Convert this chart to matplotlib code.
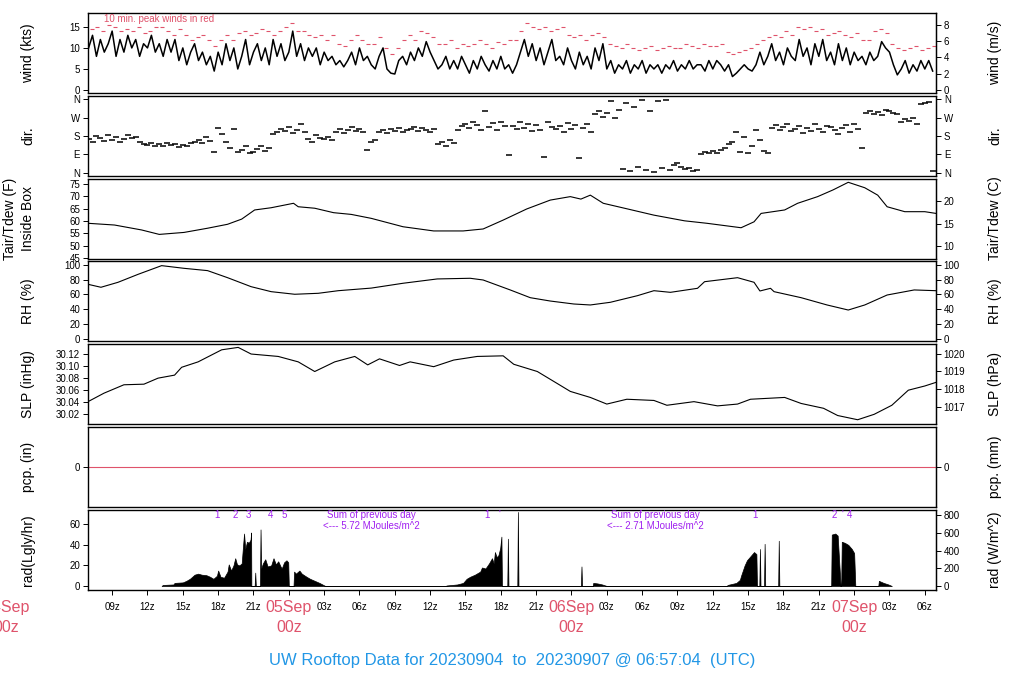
import numpy as np
import matplotlib
matplotlib.use('Agg')
import matplotlib.pyplot as plt

plt.rcParams['font.family'] = ['Liberation Sans', 'DejaVu Sans']

RED = '#DF536B'
BLUE = '#2297E6'
PURPLE = '#A020F0'

# time axis: hours since 2023-09-04 00z
t_start = 6.95
t_end = 78.95

# wind speed (kts), 3 samples per hour from 07z on 04Sep
wind_kts = [
    10, 13, 8,   12, 9, 11,   14, 8, 12,   9, 13, 10,   12, 8, 11,   10, 13, 9,
    11, 8, 12,   9, 12, 7,    10, 6, 9,    11, 7, 9,    6, 8, 4.5,   9, 6, 11,
    7, 10, 5,    8, 12, 6,    9, 11, 7,    10, 6, 12,   8, 11, 7,    9, 14, 8,
    11, 7, 10,   8, 10, 6,    9, 7, 8,     6, 7, 5.5,   7, 9, 6,     10, 7, 8,
    6, 5, 8,     10, 5, 4,    3.8, 7, 8,   6, 9, 7,     10, 8, 11.5, 9, 7, 5,
    6, 8, 5,     7, 5, 8,     6, 4, 7,     5, 8, 6,     4.5, 7, 5,   8, 5, 6,
    4, 6, 9,     12, 8, 11,   7, 10, 6,    9, 12, 7,    8, 6, 10,    7, 5, 9,
    6, 8, 5,     10, 7, 11,   5, 7, 4,     6, 5, 7,     4, 6, 5,     7, 4, 6,
    5, 6, 4,     6, 5, 7,     4.5, 6, 5,   7, 5, 6,     6, 4.5, 7,   5, 7, 6,
    4.5, 6, 3.2, 4, 5, 6,     5, 4.5, 6,   9, 6, 8,     11, 7, 9,    6, 10, 8,
    7, 12, 8,    10, 6, 11,   8, 12, 7,    9, 6, 11,    7, 10, 6,    9, 7, 8,
    6, 9, 7,     8, 11.5, 10, 9, 6, 3.6,   5, 7, 4,     6, 4.5, 7,   5, 7, 4.5,
]

# 10 min peak winds (kts), 2 samples per hour
gust_kts = [
    14.5, 15, 14, 15.5, 15, 14, 14.5, 14, 15, 13.5, 14, 15,
    15, 14, 13, 14.5, 13, 12, 12.5, 13, 12, 10.5, 12, 13,
    12, 13.5, 14, 13, 13.5, 14.5, 14, 13, 14, 15, 16, 14,
    14, 13, 12.5, 13, 12, 13, 11, 10.5, 12, 13, 12, 11,
    11, 12.5, 10, 8.5, 10, 12, 13, 12, 14, 13.5, 12.5, 11,
    11, 12, 10, 11, 10.5, 11, 12, 11, 10, 11.5, 11, 12,
    12, 14, 16, 15, 14.5, 15, 14, 14.5, 15, 13, 12.5, 13,
    12, 13, 13.5, 12.5, 11, 10.5, 10, 11, 10, 9.5, 10, 10.5,
    9.5, 10, 10.5, 10, 10, 11, 10.5, 10, 11, 10.5, 10.5, 11,
    9, 8.5, 9, 9.5, 10, 11, 12, 12.5, 13, 12.5, 14, 13,
    15, 14.5, 15, 14, 14.5, 13, 13.5, 14, 13, 12.5, 13.5, 12,
    12, 14, 14.5, 13.5, 11, 10, 9.5, 10, 10.5, 9.5, 10, 10.5,
]

# wind direction (deg), 3 samples per hour
wdir_deg = [
    165, 150, 180, 170, 155, 185, 160, 175, 150, 165, 185, 170,
    175, 150, 140, 135, 145, 130, 140, 130, 145, 135, 140, 128,
    138, 132, 145, 150, 160, 145, 175, 155, 100, 220, 190, 150,
    120, 215, 100, 110, 130, 95, 100, 115, 130, 105, 120, 190,
    200, 215, 205, 225, 195, 210, 240, 200, 165, 150, 185, 170,
    165, 175, 160, 200, 215, 195, 210, 225, 205, 215, 200, 110,
    150, 160, 200, 210, 195, 215, 205, 220, 200, 210, 215, 225,
    205, 220, 210, 200, 215, 140, 150, 130, 160, 145, 210, 230,
    240, 220, 250, 235, 210, 300, 225, 245, 210, 250, 230, 85,
    230, 215, 250, 220, 240, 205, 235, 210, 80, 250, 225, 215,
    230, 200, 245, 215, 235, 75, 220, 240, 200, 285, 300, 275,
    290, 350, 270, 305, 20, 340, 10, 320, 30, 355, 15, 300,
    5, 350, 25, 355, 15, 40, 50, 30, 20, 25, 10, 15,
    90, 100, 95, 105, 95, 110, 120, 140, 150, 200, 100, 175,
    95, 130, 210, 160, 105, 95, 220, 235, 210, 225, 240, 205,
    215, 230, 195, 220, 205, 240, 215, 200, 230, 225, 210, 190,
    220, 235, 200, 240, 215, 120, 290, 300, 285, 295, 280, 305,
    300, 290, 285, 250, 265, 255, 270, 240, 335, 340, 345, 10,
]

# temperature inside box (F)
temp_t = [6.95, 9.2, 11.5, 13.0, 15.1, 17.1, 18.8, 20.0, 21.1, 22.5,
          24.4, 24.8, 26.2, 27.8, 29.3, 31.0, 33.7, 36.3, 38.8, 40.5,
          42.2, 44.2, 46.2, 47.9, 48.8, 49.6, 50.7, 52.5, 55.0, 57.6,
          59.5, 62.4, 63.5, 64.1, 66.1, 67.2, 68.9, 70.2, 71.5, 72.9,
          74.0, 74.8, 76.3, 78.0, 78.95]
temp_f = [59.1, 58.4, 56.4, 54.6, 55.4, 57.1, 58.7, 60.8, 64.5, 65.4,
          67.2, 65.8, 65.2, 63.4, 62.7, 61.1, 57.7, 56.0, 56.0, 56.8,
          60.4, 64.9, 68.5, 69.9, 68.9, 70.5, 67.2, 65.2, 62.4, 60.1,
          59.1, 57.3, 59.7, 63.1, 64.5, 67.2, 69.9, 72.6, 75.7, 73.5,
          70.5, 65.8, 63.8, 63.8, 63.1]

# relative humidity (%)
rh_t = [6.95, 8.05, 9.5, 11.2, 13.2, 15.1, 17.1, 18.8, 20.8, 22.5,
        24.5, 26.5, 28.2, 31.0, 33.7, 36.6, 39.4, 40.5, 42.8, 44.5,
        46.2, 48.2, 49.6, 51.3, 53.6, 55.0, 56.4, 58.7, 59.3, 62.1,
        63.5, 64.0, 64.9, 65.2, 67.5, 69.7, 71.5, 72.9, 74.8, 77.1,
        78.95]
rh_pct = [73.6, 69.6, 76.3, 87, 98.7, 95.1, 92, 82.5, 70.4, 63.7,
          60.2, 61.5, 65, 68.5, 75, 80.8, 81.7, 79.4, 66, 55.6,
          51.1, 47.1, 45.8, 49.4, 58.3, 65, 62.8, 68.2, 77.1, 82.5,
          76.3, 64.6, 68.2, 63.7, 55.6, 45.8, 39, 45.8, 59.2, 66,
          65]

# sea level pressure (inHg)
slp_t = [6.95, 8.3, 10.0, 11.7, 12.9, 14.3, 14.9, 16.3, 18.3, 19.7,
         20.8, 23.1, 24.8, 26.2, 27.9, 29.6, 30.7, 31.7, 33.4, 34.3,
         36.3, 38.0, 40.0, 42.2, 43.1, 45.1, 46.8, 47.9, 49.6, 51.0,
         52.7, 55.0, 56.1, 58.4, 60.4, 62.1, 63.2, 66.1, 67.5, 69.4,
         70.6, 72.3, 73.7, 75.2, 76.6, 78.0, 78.95]
slp_inhg = [30.041, 30.055, 30.069, 30.070, 30.080, 30.085, 30.098, 30.107, 30.127, 30.131,
            30.120, 30.116, 30.107, 30.091, 30.107, 30.116, 30.102, 30.112, 30.101, 30.107,
            30.099, 30.110, 30.116, 30.117, 30.103, 30.091, 30.071, 30.058, 30.048, 30.037,
            30.045, 30.043, 30.035, 30.041, 30.034, 30.037, 30.045, 30.048, 30.038, 30.030,
            30.018, 30.011, 30.020, 30.035, 30.060, 30.067, 30.073]

# precip (in)
pcp_t = [t_start, t_end]
pcp_in = [0, 0]

# solar radiation (Lgly/hr)
rad_t = [13.2, 13.3, 14.2, 14.3, 15.0, 15.3, 15.6, 16.0, 16.3, 16.6, 17.0, 17.3, 17.6, 17.9,
         18.0, 18.2, 18.5, 18.8, 18.9, 19.1, 19.3, 19.45, 19.6, 19.8, 20.0, 20.1, 20.2, 20.3,
         20.45, 20.6, 20.75, 20.8, 20.82, 21.1, 21.15, 21.2, 21.55, 21.6, 21.65, 21.8, 22.0,
         22.2, 22.5, 22.7, 22.9, 23.1, 23.3, 23.4, 23.6, 23.8, 23.95, 24.0, 24.4, 24.45, 24.6,
         24.9, 25.1, 25.5, 25.8, 26.2, 26.6, 27.1,
         37.3, 37.4, 38.3, 38.8, 39.1, 39.4, 39.8, 40.25, 40.4, 40.7, 41.0, 41.25, 41.4, 41.5,
         41.65, 41.8, 41.95, 42.05, 42.1, 42.55, 42.6, 42.65, 43.4, 43.45, 43.5, 48.8, 48.85,
         48.9, 49.8, 49.85, 50.2, 50.6, 51.0,
         61.2, 61.25, 62.0, 62.3, 62.4, 62.7, 62.9, 63.2, 63.5, 63.7, 63.75, 63.95, 64.0, 64.05,
         64.35, 64.4, 64.45, 65.55, 65.6, 65.65, 70.05, 70.1, 70.4, 70.6, 70.85, 70.9, 70.95,
         71.2, 71.5, 71.8, 72.0, 72.1, 74.05, 74.1, 74.5, 74.9, 75.2]
rad_v = [0, 1, 1.5, 3, 3.5, 5, 7, 11, 12, 11, 10.5, 9, 7, 10,
         15, 9, 8, 14, 21, 15, 20, 27, 21, 20, 22, 37, 51, 36,
         43, 42, 45, 52, 0, 0, 13, 0, 0, 55, 17, 22, 26,
         19, 20, 27, 21, 24, 19, 17, 23, 25, 23, 0, 0, 14, 12,
         15, 12, 9, 7, 5, 3, 0,
         0, 0.5, 1.5, 3, 7, 9, 11, 14, 18, 17, 22, 27, 22, 33,
         28, 30, 37, 48, 0, 0, 46, 0, 0, 72, 0, 0, 19,
         0, 0, 3, 2.5, 1.5, 0,
         0, 1, 3, 6, 10, 20, 25, 29, 33, 31, 0, 0, 36, 0,
         0, 41, 0, 0, 44, 0, 0, 50, 51, 49, 0, 0, 43,
         42, 40, 36, 32, 0, 0, 5, 3, 1.5, 0]

# purple hour markers and daily sums on the radiation panel
mark_t = [17.87, 19.49, 20.6, 22.47, 23.57, 40.85, 41.87, 63.57, 70.3, 70.96, 71.64]
mark_lbl = ['1', '2', '3', '4', '5', '1', "'", '1', '2', "'", '4']
sum_t = [31.0, 55.15]
sum_mj = [5.72, 2.71]

# x axis labels
hour_ticks = list(range(9, 79, 3))
day_pos = [0, 24, 48, 72]
day_lbl = ['04Sep', '05Sep', '06Sep', '07Sep']

wind_t = 7.0 + np.arange(len(wind_kts)) / 3.0
gust_t = 7.25 + np.arange(len(gust_kts)) / 2.0
wdir_t = 7.0 + np.arange(len(wdir_deg)) / 3.0

W, H = 1024, 700
fig = plt.figure(figsize=(W / 100, H / 100), dpi=100)
left, right = 88, 936
tops = [13 + i * 82.8 for i in range(7)]
ph = 80

def panel(i):
    return fig.add_axes([left / W, 1 - (tops[i] + ph) / H, (right - left) / W, ph / H])

def style(ax, ylim, yticks, yticklabels=None):
    ax.set_xlim(t_start, t_end)
    ax.set_ylim(*ylim)
    ax.set_yticks(yticks)
    if yticklabels is not None:
        ax.set_yticklabels(yticklabels)
    ax.tick_params(axis='y', labelsize=7, length=3.6, width=0.7, pad=2)
    ax.tick_params(axis='x', bottom=False, labelbottom=False)
    for s in ax.spines.values():
        s.set_linewidth(1.0)

def second(ax, f, finv, ticks, labels=None):
    sec = ax.secondary_yaxis('right', functions=(f, finv))
    sec.set_yticks(ticks)
    if labels is not None:
        sec.set_yticklabels(labels)
    sec.tick_params(labelsize=7, length=3.6, width=0.7, pad=2)
    return sec

def ylab(i, text, x=28, side_text=None, xr=995):
    yc = 1 - (tops[i] + ph / 2) / H
    fig.text(x / W, yc, text, rotation=90, ha='center', va='center', fontsize=10)
    if side_text:
        fig.text(xr / W, yc, side_text, rotation=90, ha='center', va='center', fontsize=10)

# wind
ax = panel(0)
ax.plot(wind_t, wind_kts, color='black', lw=1.1)
ax.plot(gust_t, gust_kts, ls='none', marker='_', ms=3.5, mew=0.8, color=RED)
ax.text(8.34, 16.9, '10 min. peak winds in red', color=RED, fontsize=7, va='center')
style(ax, (-0.71, 18.3), [0, 5, 10, 15])
second(ax, lambda k: k / 1.944, lambda m: m * 1.944, [0, 2, 4, 6, 8])
ylab(0, 'wind (kts)', side_text='wind (m/s)')

# direction
ax = panel(1)
ax.plot(wdir_t, wdir_deg, ls='none', marker='_', ms=4.5, mew=1.1, color='black')
compass = ['N', 'E', 'S', 'W', 'N']
style(ax, (-14, 376), [0, 90, 180, 270, 360], compass)
second(ax, lambda d: d, lambda d: d, [0, 90, 180, 270, 360], compass)
ylab(1, 'dir.', side_text='dir.')

# temperature
ax = panel(2)
ax.plot(temp_t, temp_f, color='black', lw=0.8)
style(ax, (44.8, 77.2), [45, 50, 55, 60, 65, 70, 75])
second(ax, lambda f: (f - 32) * 5 / 9, lambda c: c * 9 / 5 + 32, [10, 15, 20])
yc = 1 - (tops[2] + ph / 2) / H
fig.text(10 / W, yc, 'Tair/Tdew (F)', rotation=90, ha='center', va='center', fontsize=10)
fig.text(28 / W, yc, 'Inside Box', rotation=90, ha='center', va='center', fontsize=10)
fig.text(995 / W, yc, 'Tair/Tdew (C)', rotation=90, ha='center', va='center', fontsize=10)

# relative humidity
ax = panel(3)
ax.plot(rh_t, rh_pct, color='black', lw=0.8)
style(ax, (-3.2, 104.4), [0, 20, 40, 60, 80, 100])
second(ax, lambda r: r, lambda r: r, [0, 20, 40, 60, 80, 100])
ylab(3, 'RH (%)', side_text='RH (%)')

# pressure
ax = panel(4)
ax.plot(slp_t, slp_inhg, color='black', lw=0.8)
style(ax, (30.0036, 30.1363), [30.02, 30.04, 30.06, 30.08, 30.10, 30.12],
      ['30.02', '30.04', '30.06', '30.08', '30.10', '30.12'])
second(ax, lambda p: p * 33.8639, lambda h: h / 33.8639, [1017, 1018, 1019, 1020])
ylab(4, 'SLP (inHg)', side_text='SLP (hPa)')

# precip
ax = panel(5)
ax.plot(pcp_t, pcp_in, color=RED, lw=0.8)
style(ax, (-1, 1), [0])
second(ax, lambda p: p * 25.4, lambda m: m / 25.4, [0])
ylab(5, 'pcp. (in)', side_text='pcp. (mm)')

# radiation
ax = panel(6)
ax.fill_between(rad_t, 0, rad_v, color='black', lw=0.5)
style(ax, (-3.7, 74.1), [0, 20, 40, 60])
second(ax, lambda r: r * 11.622, lambda w: w / 11.622, [0, 200, 400, 600, 800])
ylab(6, 'rad(Lgly/hr)', side_text='rad (W/m^2)')
for t, lbl in zip(mark_t, mark_lbl):
    ax.text(t, 69.5, lbl, color=PURPLE, fontsize=7, ha='center', va='center')
for t, mj in zip(sum_t, sum_mj):
    ax.text(t, 69.5, 'Sum of previous day', color=PURPLE, fontsize=7, ha='center', va='center')
    ax.text(t, 58.5, '<--- %.2f MJoules/m^2' % mj, color=PURPLE, fontsize=7,
            ha='center', va='center')

ax.set_xticks(hour_ticks)
ax.set_xticklabels(['' if h % 24 == 0 else '%02dz' % (h % 24) for h in hour_ticks])
ax.tick_params(axis='x', bottom=True, labelbottom=True, labelsize=7, length=3.6,
               width=0.7, pad=5)
for d, lbl in zip(day_pos, day_lbl):
    ax.annotate(lbl, xy=(d, 0), xycoords=('data', 'axes fraction'), xytext=(0, -13),
                textcoords='offset points', ha='center', va='center', color=RED,
                fontsize=11.5, annotation_clip=False)
    ax.annotate('00z', xy=(d, 0), xycoords=('data', 'axes fraction'), xytext=(0, -27),
                textcoords='offset points', ha='center', va='center', color=RED,
                fontsize=11.5, annotation_clip=False)

fig.text(0.5, 1 - 660 / H, 'UW Rooftop Data for 20230904  to  20230907 @ 06:57:04  (UTC)',
         ha='center', va='center', color=BLUE, fontsize=12)

fig.savefig('out.png', dpi=100)
